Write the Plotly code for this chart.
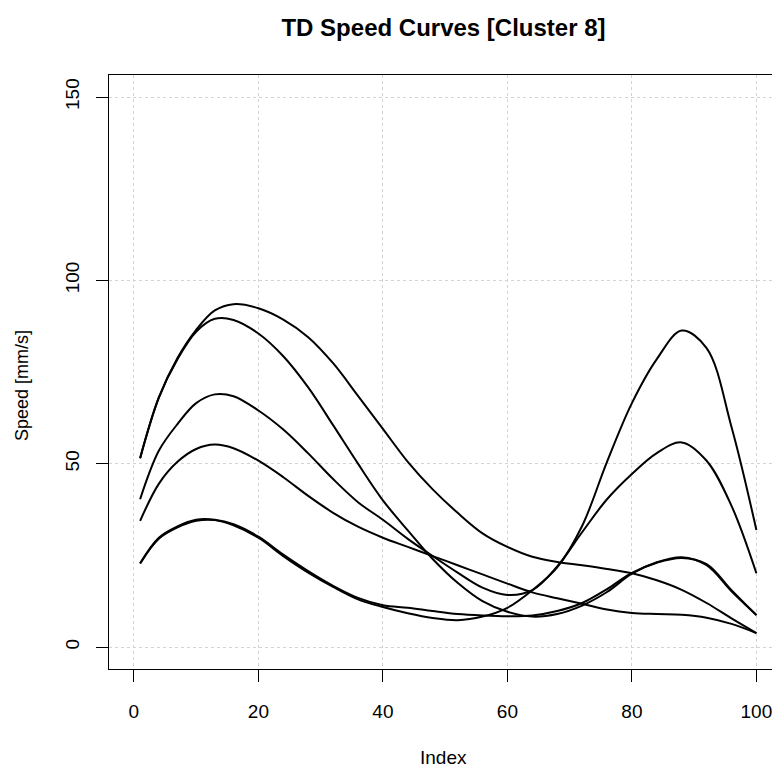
import plotly.graph_objects as go

index_pts = [1, 4, 7, 10, 13, 16, 20, 24, 28, 32, 36, 40, 44, 48, 52, 56, 60, 64, 68, 72, 76, 80, 84, 88, 92, 96, 100]

curve_1 = [51.5, 68, 78.8, 86.5, 91.8, 93.5, 92.4, 89.3, 84.5, 77.4, 68.5, 59.5, 50.5, 43, 36.6, 31, 27.3, 24.6, 23.2, 22.3, 21.3, 20.1, 18.2, 15.6, 12, 7.8, 3.8]
curve_2 = [51.5, 68, 78.5, 86, 89.5, 89.2, 85.5, 79.3, 70.8, 60.5, 50, 40, 31.8, 24, 17.5, 12.5, 9.6, 8.3, 9, 11.3, 15, 20, 23.1, 24.5, 22.3, 15.2, 8.7]
curve_3 = [40.3, 53.5, 60.8, 66.5, 68.9, 68.4, 64.5, 59.3, 52.8, 45.8, 39.5, 34.7, 29.5, 24.8, 20.3, 16.2, 14.2, 15.5, 22, 31.3, 40.3, 47.2, 52.9, 55.8, 50.8, 38.5, 20.1]
curve_4 = [34.4, 44.5, 50.5, 54, 55.2, 54.2, 50.8, 46.3, 41.2, 36.6, 32.8, 29.8, 27.3, 24.8, 22.3, 19.8, 17.3, 14.9, 13.3, 11.8, 10.2, 9.3, 9, 8.8, 8, 6.3, 3.8]
curve_5 = [22.8, 29.5, 32.6, 34.4, 34.6, 33.2, 29.8, 24.8, 20.3, 16.4, 13, 10.9, 9.2, 7.9, 7.3, 8.3, 10.7, 15.5, 21.7, 33, 50.5, 66.5, 78.5, 86.3, 81.5, 60, 31.9]
curve_6 = [22.8, 29.8, 32.9, 34.7, 34.7, 33.5, 30.1, 25.2, 20.7, 16.7, 13.4, 11.4, 10.7, 9.8, 9, 8.6, 8.4, 8.6, 9.8, 12, 15.8, 20.2, 23, 24.3, 22.6, 15.5, 8.7]

curves = [curve_1, curve_2, curve_3, curve_4, curve_5, curve_6]

x_ticks = [0, 20, 40, 60, 80, 100]
y_ticks = [0, 50, 100, 150]

FONT = "Liberation Sans, Arial, sans-serif"

fig = go.Figure()
for c in curves:
    fig.add_trace(go.Scatter(
        x=index_pts, y=c, mode="lines",
        line=dict(color="black", width=2, shape="spline", smoothing=1.0),
        showlegend=False, hoverinfo="skip"))

axis_common = dict(
    showline=True, mirror=True, linecolor="black", linewidth=1,
    ticks="outside", ticklen=12, tickwidth=1, tickcolor="black",
    showgrid=True, gridcolor="#d3d3d3", griddash="dot", gridwidth=1,
    zeroline=False, tickfont=dict(family=FONT, size=19, color="black"),
)

fig.update_xaxes(range=[-4, 103.47], tickvals=x_ticks, ticktext=[str(v) for v in x_ticks],
                 ticklabelstandoff=13, **axis_common)
fig.update_yaxes(range=[-6, 156], tickvals=y_ticks, ticktext=[str(v) for v in y_ticks],
                 tickangle=-90, ticklabelstandoff=9, **axis_common)

# page has an 8px body margin: figure is 772x761 placed at (8, 8)
fig.update_layout(
    width=772, height=761,
    margin=dict(l=101, r=2, t=67, b=100),
    paper_bgcolor="white", plot_bgcolor="white",
    title=dict(text="<b>TD Speed Curves [Cluster 8]</b>", x=0.5, xref="paper",
               y=1 - 20 / 761, yref="container", xanchor="center", yanchor="middle",
               font=dict(family=FONT, size=24, color="black")),
    annotations=[
        dict(text="Index", x=0.5, y=(669 - 757) / 594, xref="paper", yref="paper",
             showarrow=False, xanchor="center", yanchor="middle",
             font=dict(family=FONT, size=19, color="black")),
        dict(text="Speed [mm/s]", x=(22 - 109) / 669, y=(669 - 386) / 594, xref="paper", yref="paper",
             showarrow=False, xanchor="center", yanchor="middle", textangle=-90,
             font=dict(family=FONT, size=18, color="black")),
    ],
)

fig.write_html("out.html")
